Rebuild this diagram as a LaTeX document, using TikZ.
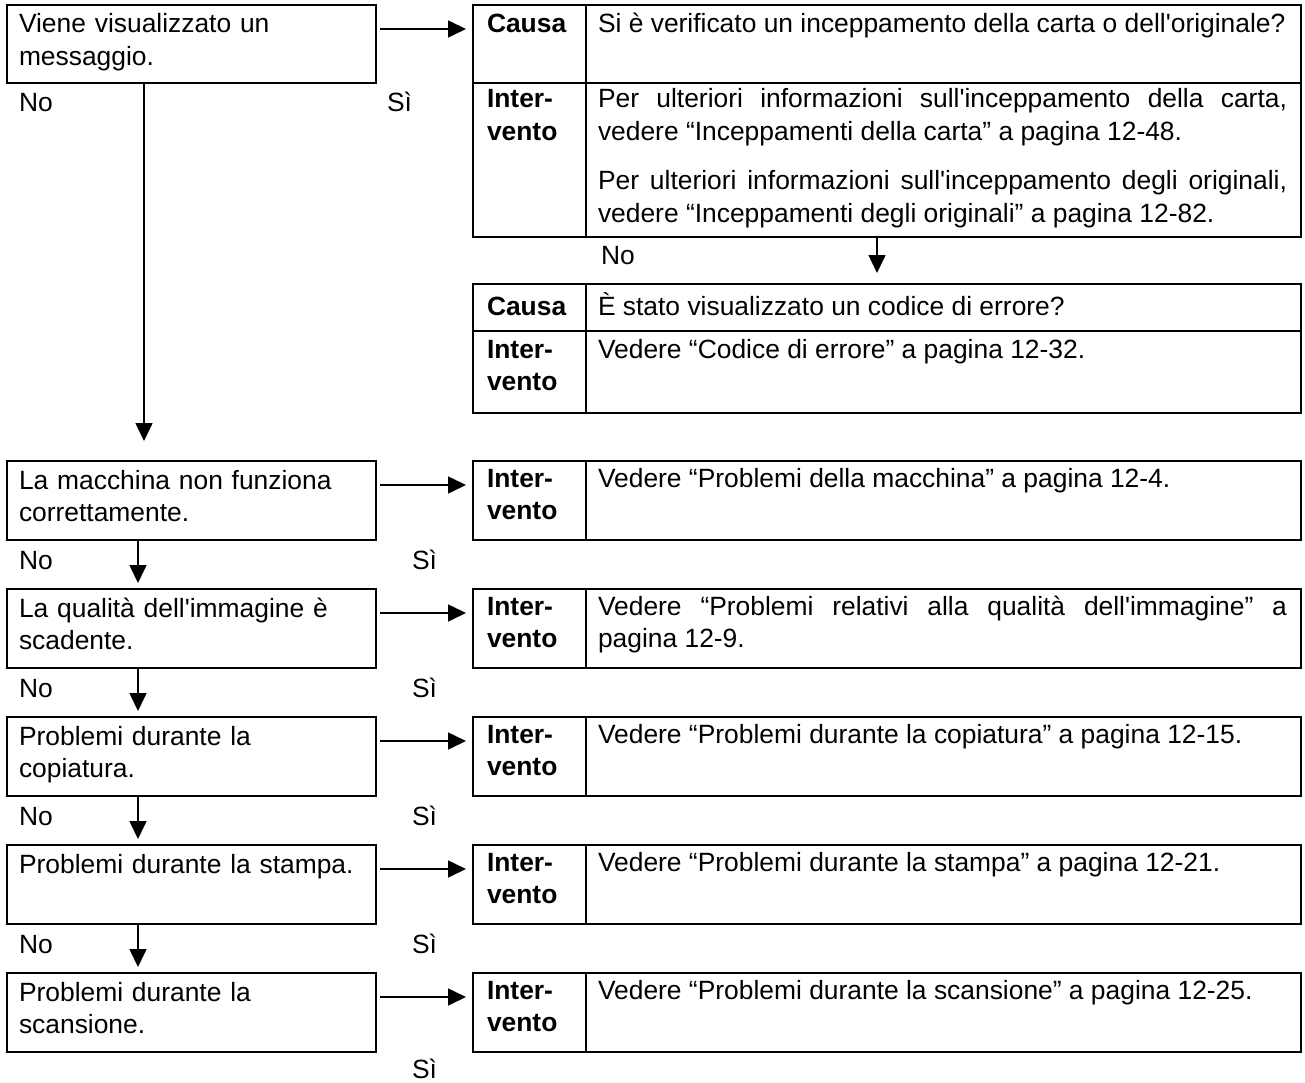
\documentclass[tikz,border=0pt]{standalone}
\usepackage{fontspec}
\setmainfont{Liberation Sans}[Ligatures=TeXOff]
\usetikzlibrary{arrows.meta}

\begin{document}
\begin{tikzpicture}[x=1pt,y=-1pt,
  every node/.style={inner sep=0pt, outer sep=0pt},
  qbox/.style={draw, line width=2.4pt, anchor=north west, minimum width=369pt, minimum height=79pt},
  tbox/.style={draw, line width=2.4pt, anchor=north west, minimum width=828pt},
  inner/.style={line width=1.8pt},
  txt/.style={anchor=base west, text width=360pt, align=left, font=\fontsize{26.4}{32.5}\selectfont},
  hd/.style={txt, text width=96pt, font=\fontsize{26.4}{32.5}\selectfont\bfseries},
  jt/.style={anchor=base west, text width=689pt, align=justify, font=\fontsize{26.4}{32.5}\selectfont,
    execute at begin node={\tolerance=10000\hbadness=10000\relax}},
  lbl/.style={anchor=base west, font=\fontsize{26.4}{32.5}\selectfont},
  arr/.style={line width=1.6pt, -{Triangle[length=18pt,width=17pt]}},
]
% page
\fill[white] (0,0) rectangle (1305,1083);
\useasboundingbox (0,0) rectangle (1305,1083);

% question boxes (left column)
\node[qbox, minimum height=78pt] (q1) at (7,5) {};
\node[qbox] (q2) at (7,461) {};
\node[qbox] (q3) at (7,589) {};
\node[qbox] (q4) at (7,717) {};
\node[qbox] (q5) at (7,845) {};
\node[qbox] (q6) at (7,973) {};

\node[txt] (q1t) at (19,33)  {Viene visualizzato un\\messaggio.};
\node[txt] (q2t) at (19,489) {La macchina non funziona\\correttamente.};
\node[txt] (q3t) at (19,617) {La qualità dell'immagine è\\scadente.};
\node[txt] (q4t) at (19,745) {Problemi durante la\\copiatura.};
\node[txt] (q5t) at (19,873) {Problemi durante la stampa.};
\node[txt] (q6t) at (19,1001) {Problemi durante la\\scansione.};

% answer tables (right column)
\node[tbox, minimum height=232pt] (tA) at (473,5) {};
\node[tbox, minimum height=129pt] (tB) at (473,284) {};
\node[tbox, minimum height=79pt] (tC) at (473,461) {};
\node[tbox, minimum height=79pt] (tD) at (473,589) {};
\node[tbox, minimum height=79pt] (tE) at (473,717) {};
\node[tbox, minimum height=79pt] (tF) at (473,845) {};
\node[tbox, minimum height=79pt] (tG) at (473,973) {};

% table rules
\foreach \t in {tA,tB,tC,tD,tE,tF,tG}{
  \draw[inner] ([xshift=113pt]\t.north west) -- ([xshift=113pt]\t.south west);
}
\draw[line width=2.2pt] ([yshift=-78pt]tA.north west) -- ([yshift=-78pt]tA.north east);
\draw[line width=2.2pt] ([yshift=-47pt]tB.north west) -- ([yshift=-47pt]tB.north east);

% table A
\node[hd] (aCh) at (487,33) {Causa};
\node[lbl] (aCt) at (598,33) {Si è verificato un inceppamento della carta o dell'originale?};
\node[hd] (aIh) at (487,108) {Inter-\\vento};
\node[jt] (aIt1) at (598,108) {Per ulteriori informazioni sull'inceppamento della carta,\linebreak vedere “Inceppamenti della carta” a pagina 12-48.};
\node[jt] (aIt2) at (598,190) {Per ulteriori informazioni sull'inceppamento degli originali,\linebreak vedere “Inceppamenti degli originali” a pagina 12-82.};

% table B
\node[hd] (bCh) at (487,315) {Causa};
\node[lbl] (bCt) at (598,315) {È stato visualizzato un codice di errore?};
\node[hd] (bIh) at (487,358) {Inter-\\vento};
\node[lbl] (bIt) at (598,358) {Vedere “Codice di errore” a pagina 12-32.};

% tables C to G
\node[hd] (cIh) at (487,487) {Inter-\\vento};
\node[lbl] (cIt) at (598,487) {Vedere “Problemi della macchina” a pagina 12-4.};
\node[hd] (dIh) at (487,615) {Inter-\\vento};
\node[jt] (dIt) at (598,615) {Vedere “Problemi relativi alla qualità dell'immagine” a\linebreak pagina 12-9.};
\node[hd] (eIh) at (487,743) {Inter-\\vento};
\node[lbl] (eIt) at (598,743) {Vedere “Problemi durante la copiatura” a pagina 12-15.};
\node[hd] (fIh) at (487,871) {Inter-\\vento};
\node[lbl] (fIt) at (598,871) {Vedere “Problemi durante la stampa” a pagina 12-21.};
\node[hd] (gIh) at (487,999) {Inter-\\vento};
\node[lbl] (gIt) at (598,999) {Vedere “Problemi durante la scansione” a pagina 12-25.};

% yes / no labels
\node[lbl] (no1) at (19,112) {No};
\node[lbl] (si1) at (387,112) {Sì};
\node[lbl] (no2) at (19,569) {No};
\node[lbl] (si2) at (412,569) {Sì};
\node[lbl] (no3) at (19,697) {No};
\node[lbl] (si3) at (412,697) {Sì};
\node[lbl] (no4) at (19,825) {No};
\node[lbl] (si4) at (412,825) {Sì};
\node[lbl] (no5) at (19,953) {No};
\node[lbl] (si5) at (412,953) {Sì};
\node[lbl] (si6) at (412,1078) {Sì};
\node[lbl] (noA) at (601,264) {No};

% "yes" arrows to the right
\foreach \q/\t in {q1/tA,q2/tC,q3/tD,q4/tE,q5/tF,q6/tG}{
  \coordinate (h\q) at ([yshift=-24pt]\q.north east);
  \draw[arr, shorten <=4pt, shorten >=7pt] (h\q) -- (h\q -| \t.west);
}

% "no" arrows downward
\coordinate (v1) at ([xshift=137pt]q1.south west);
\draw[arr, shorten >=20pt] (v1) -- (v1 |- q2.north);
\foreach \a/\b in {q2/q3,q3/q4,q4/q5,q5/q6}{
  \coordinate (v\a) at ([xshift=131pt]\a.south west);
  \draw[arr, shorten >=6pt] (v\a) -- (v\a |- \b.north);
}
\coordinate (w1) at ([xshift=404pt]tA.south west);
\draw[arr, shorten >=11pt] (w1) -- (w1 |- tB.north);
\end{tikzpicture}
\end{document}
